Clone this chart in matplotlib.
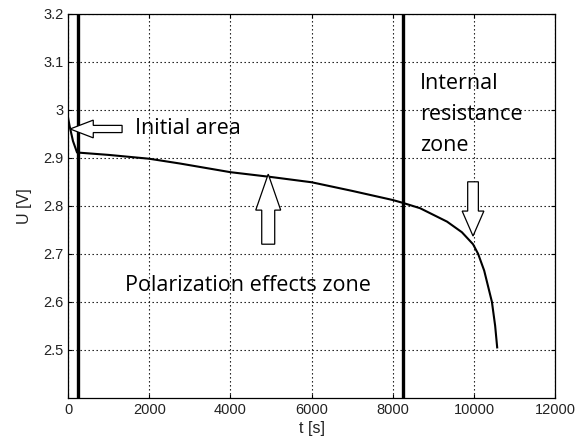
import matplotlib
matplotlib.use("Agg")
import matplotlib.pyplot as plt
from matplotlib.patches import FancyArrow

# discharge curve
t = [0, 40, 120, 220, 1000, 2000, 2760, 4000, 5000, 6000, 7000, 8000,
     8250, 8670, 9335, 9700, 9975, 10100, 10250, 10440, 10520, 10570]
u = [2.983, 2.965, 2.935, 2.911, 2.906, 2.898, 2.888, 2.870, 2.860, 2.849,
     2.831, 2.812, 2.806, 2.795, 2.767, 2.745, 2.720, 2.700, 2.665, 2.600,
     2.550, 2.505]

zone_lines = [250, 8250]
x_ticks = [0, 2000, 4000, 6000, 8000, 10000, 12000]
y_ticks = [2.5, 2.6, 2.7, 2.8, 2.9, 3.0, 3.1, 3.2]
y_tick_labels = ["2.5", "2.6", "2.7", "2.8", "2.9", "3", "3.1", "3.2"]

fig = plt.figure(figsize=(5.82, 4.44), dpi=100)
ax = fig.add_axes([0.117, 0.104, 0.837, 0.865])

ax.plot(t, u, color="black", linewidth=1.5)
for x in zone_lines:
    ax.axvline(x, color="black", linewidth=2.4)

ax.set_xlim(0, 12000)
ax.set_ylim(2.4, 3.2)
ax.set_xticks(x_ticks)
ax.set_yticks(y_ticks)
ax.set_yticklabels(y_tick_labels)
ax.grid(color="black", linestyle=(0, (1.2, 2.4)), linewidth=0.8)
ax.tick_params(labelsize=10.5, length=3, direction="in", top=True, right=True,
               labelcolor="#222222")
for lbl in ax.get_xticklabels() + ax.get_yticklabels():
    lbl.set_fontfamily("Liberation Sans")
for s in ax.spines.values():
    s.set_linewidth(0.9)

ax.set_xlabel("t [s]", fontsize=11.5, family="Liberation Sans", labelpad=3,
              color="#222222")
ax.set_ylabel("U [V]", fontsize=11.5, family="Liberation Sans", labelpad=8,
              color="#222222")

font = dict(fontsize=15.5, family="Open Sans", color="black")
ax.text(1650, 2.96, "Initial area", va="center", ha="left", **font)
ax.text(4430, 2.635, "Polarization effects zone", va="center", ha="center", **font)
ax.text(8670, 2.99, "Internal\nresistance\nzone", va="center", ha="left",
        linespacing=1.6, **font)


def hollow_arrow(x0, y0, dx, dy, width, head_width, head_length):
    a = FancyArrow(x0, y0, dx, dy, width=width, head_width=head_width,
                   head_length=head_length, length_includes_head=True,
                   facecolor="white", edgecolor="black", linewidth=0.9,
                   zorder=5)
    ax.add_patch(a)


# screen scale: 48 px per 0.1 V, 40.6 px per 1000 s
hollow_arrow(1330, 2.96, -1280, 0, 0.015, 0.037, 570)
hollow_arrow(4930, 2.72, 0, 0.146, 320, 615, 0.075)
hollow_arrow(9975, 2.85, 0, -0.113, 263, 535, 0.052)

fig.savefig("out.png", dpi=100)
